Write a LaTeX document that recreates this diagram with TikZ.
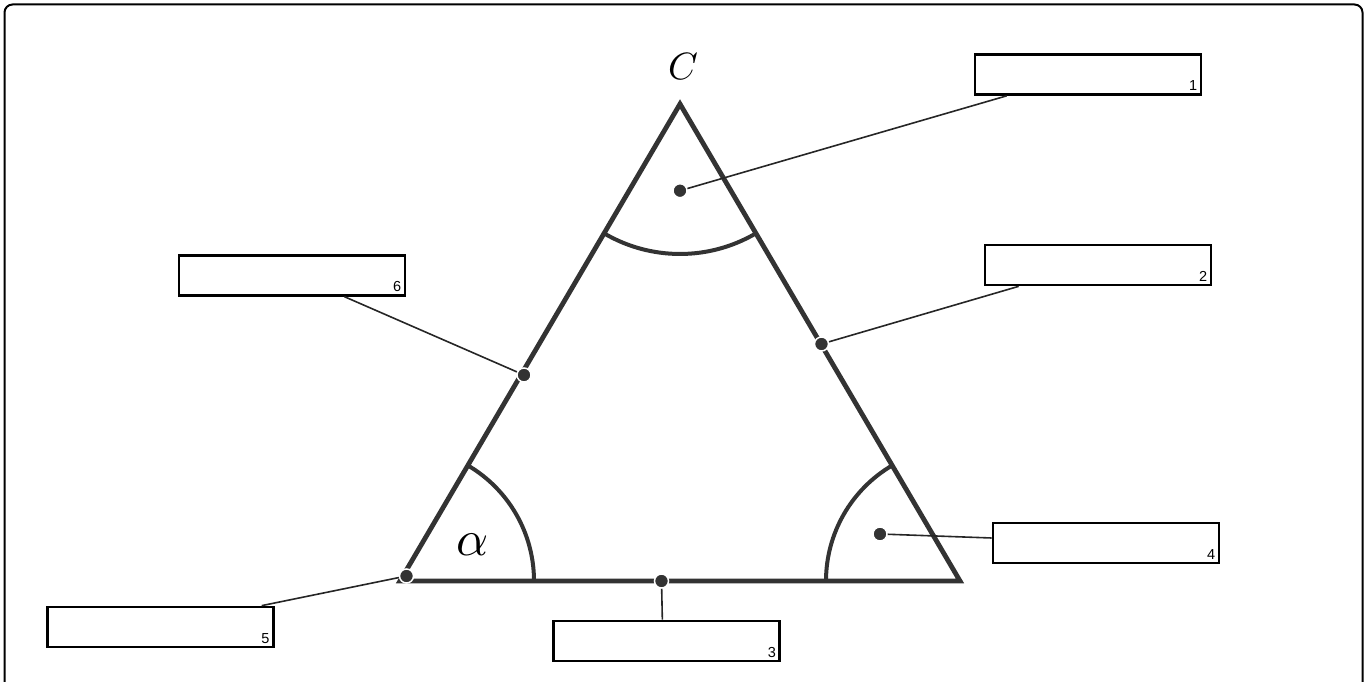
\documentclass[tikz,border=0pt]{standalone}
\usepackage{graphicx}
\usepackage{fontspec}
\newfontfamily\numfont{Liberation Sans}
\newcommand\boxnumtext[1]{\scalebox{1.45}{\numfont #1}}
\begin{document}
\begin{tikzpicture}[x=1pt,y=1pt,
  tri/.style={draw=black!80, line width=4.8pt, line join=miter},
  anglearc/.style={draw=black!80, line width=4pt},
  leader/.style={draw=black!85, line width=1.6pt},
  dot/.style={circle, fill=black!80, draw=white, line width=1.5pt, minimum size=14pt, inner sep=0pt},
  labelbox/.style={draw=black, line width=2.7pt, minimum width=226pt, minimum height=40pt, inner sep=0pt},
  boxnum/.style={anchor=base east, inner sep=0pt}
]
\useasboundingbox (0,0) rectangle (1367,682);

% outer frame (open at the bottom edge of the page)
\draw[line width=2pt, rounded corners=8pt] (4.5,-6) -- (4.5,677.5) -- (1362.5,677.5) -- (1362.5,-6);

% triangle vertices
\coordinate (A) at (400,101);
\coordinate (B) at (960,101);
\coordinate (C) at (680,578);

\draw[tri] (A) -- (B) -- (C) -- cycle;

% angle arcs
\draw[anglearc] (A) ++(0:134) arc[start angle=0, end angle=59.6, radius=134];
\draw[anglearc] (B) ++(120.4:134) arc[start angle=120.4, end angle=180, radius=134];
\draw[anglearc] (C) ++(239.6:150) arc[start angle=239.6, end angle=300.4, radius=150];

% vertex and angle labels
\node (lc) at (683,615.5) {\scalebox{3.8}{$C$}};
\node (la) at (472.5,137) {\scalebox{5}{$\alpha$}};

% label boxes
\node[labelbox] (b1) at (1088,607.5) {};
\node[labelbox] (b2) at (1098,417) {};
\node[labelbox] (b3) at (666.7,41) {};
\node[labelbox] (b4) at (1106,139) {};
\node[labelbox] (b5) at (160.3,55) {};
\node[labelbox] (b6) at (292,406.7) {};

\foreach \i in {1,...,6}
  \node[boxnum] (n\i) at ([xshift=-5pt,yshift=5pt]b\i.south east) {\boxnumtext{\i}};

% marker positions
\coordinate (p1) at (680,491.3);
\coordinate (p2) at (821.5,338);
\coordinate (p3) at (661.5,101);
\coordinate (p4) at (880,148);
\coordinate (p5) at (406.5,106);
\coordinate (p6) at (524,307);

% leader lines
\draw[leader] (p1) -- ([xshift=33pt]b1.south west);
\draw[leader] (p2) -- ([xshift=35pt]b2.south west);
\draw[leader] (p3) -- ([xshift=110pt]b3.north west);
\draw[leader] (p4) -- ([yshift=5pt]b4.west);
\draw[leader] (p5) -- ([xshift=-13pt]b5.north east);
\draw[leader] (p6) -- ([xshift=-62pt]b6.south east);

% markers
\foreach \i in {1,...,6}
  \node[dot] (d\i) at (p\i) {};
\end{tikzpicture}
\end{document}
